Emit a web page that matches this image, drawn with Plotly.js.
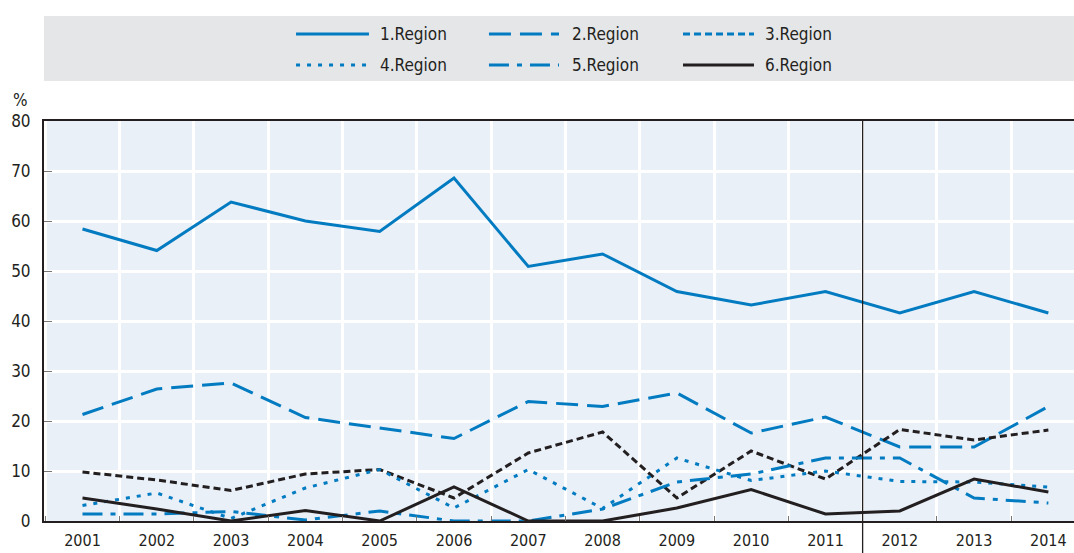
<!DOCTYPE html>
<html>
<head>
<meta charset="utf-8">
<script src="https://cdn.plot.ly/plotly-3.0.1.min.js"></script>
<style>html,body{margin:0;padding:0;background:#fff;}#chart{width:1074px;height:553px;}</style>
</head>
<body>
<div id="chart"></div>
<script>
// ---- data ----
const years = ['2001','2002','2003','2004','2005','2006','2007','2008','2009','2010','2011','2012','2013','2014'];
const seriesNames = ['1.Region','2.Region','3.Region','4.Region','5.Region','6.Region'];
const region1 = [58.4, 54.1, 63.8, 60.0, 57.9, 68.6, 50.9, 53.4, 45.9, 43.2, 45.9, 41.6, 45.9, 41.6];
const region2 = [21.3, 26.4, 27.6, 20.7, 18.6, 16.5, 23.9, 22.9, 25.6, 17.6, 20.8, 14.8, 14.8, 22.9];
const region3 = [9.8, 8.2, 6.1, 9.4, 10.3, 4.6, 13.6, 17.8, 4.6, 14.0, 8.4, 18.3, 16.2, 18.2];
const region4 = [3.1, 5.6, 0.5, 6.6, 10.3, 2.6, 10.3, 2.5, 12.6, 8.1, 10.0, 7.9, 7.8, 6.8];
const region5 = [1.4, 1.4, 1.9, 0.2, 2.0, 0.0, 0.0, 2.4, 7.8, 9.4, 12.6, 12.6, 4.6, 3.6];
const region6 = [4.6, 2.4, 0.0, 2.1, 0.0, 6.8, 0.0, 0.0, 2.6, 6.3, 1.4, 2.0, 8.4, 5.8];
const yTicks = [0, 10, 20, 30, 40, 50, 60, 70, 80];

// ---- styles ----
const BLUE = '#037bc1', BLACK = '#231f20';
const FONT = 'Liberation Sans Narrow, Arial Narrow, DejaVu Sans Condensed, sans-serif';
const values = [region1, region2, region3, region4, region5, region6];
const lineColors = [BLUE, BLUE, BLACK, BLUE, BLUE, BLACK];
const legendColors = [BLUE, BLUE, BLUE, BLUE, BLUE, BLACK];
const dashes = ['solid', '22px,9px', '7px,4px', '4px,7px', '20px,8px,5px,8px', 'solid'];

const xIdx = years.map((_, i) => i);
const traces = values.map((v, k) => ({
  type: 'scatter', mode: 'lines', name: seriesNames[k],
  x: xIdx, y: v, showlegend: false, hoverinfo: 'skip',
  line: {color: lineColors[k], width: 3, dash: dashes[k]}
}));

// legend drawn in a grey band above the plot
const shapes = [{
  type: 'rect', xref: 'paper', yref: 'paper', x0: 0, x1: 1, y0: 1.1, y1: 1.2625,
  fillcolor: '#e5e6e8', line: {width: 0}, layer: 'below'
}];
const annotations = [{
  text: '%', xref: 'paper', yref: 'paper', x: -0.0225, y: 1.0525,
  xanchor: 'center', yanchor: 'middle', showarrow: false,
  font: {family: FONT, size: 17, color: BLACK}
}];
const colSample = [[0.2447, 0.3155], [0.4320, 0.5000], [0.6204, 0.6893]];
const colText = [0.3243, 0.5107, 0.6981];
const rowY = [1.2175, 1.14];
seriesNames.forEach((nm, k) => {
  const c = k % 3, r = Math.floor(k / 3);
  shapes.push({
    type: 'line', xref: 'paper', yref: 'paper',
    x0: colSample[c][0], x1: colSample[c][1], y0: rowY[r], y1: rowY[r],
    line: {color: legendColors[k], width: 3, dash: dashes[k]}
  });
  annotations.push({
    text: nm, xref: 'paper', yref: 'paper', x: colText[c], y: rowY[r],
    xanchor: 'left', yanchor: 'middle', showarrow: false,
    font: {family: FONT, size: 17, color: BLACK}
  });
});
// break line between 2011 and 2012
shapes.push({
  type: 'line', xref: 'x', yref: 'paper', x0: 10.5, x1: 10.5, y0: -0.08, y1: 1,
  line: {color: BLACK, width: 1.3}, layer: 'above'
});

const layout = {
  width: 1074, height: 553,
  margin: {l: 44, r: 0, t: 121, b: 32, pad: 0},
  paper_bgcolor: '#ffffff', plot_bgcolor: '#e9f0f8',
  showlegend: false,
  font: {family: FONT, size: 17, color: BLACK},
  xaxis: {
    range: [-0.518, 13.345], tickmode: 'array', tickvals: xIdx, ticktext: years,
    showgrid: false, ticks: '', zeroline: false,
    showline: true, mirror: true, linecolor: BLACK, linewidth: 2,
    tickfont: {family: FONT, size: 16, color: BLACK},
    ticklabelstandoff: 4,
    minor: {tick0: 0.5, dtick: 1, showgrid: true, gridcolor: '#ffffff', gridwidth: 3,
            ticks: 'inside', ticklen: 5, tickcolor: '#777777', tickwidth: 1}
  },
  yaxis: {
    range: [0, 80], tickmode: 'array', tickvals: yTicks,
    showgrid: true, gridcolor: '#ffffff', gridwidth: 3, zeroline: false,
    showline: true, linecolor: BLACK, linewidth: 2,
    ticks: 'inside', ticklen: 8, tickcolor: '#777777', tickwidth: 1,
    tickfont: {family: FONT, size: 17, color: BLACK},
    ticklabelstandoff: 8
  },
  shapes: shapes,
  annotations: annotations
};

Plotly.newPlot('chart', traces, layout, {displayModeBar: false, staticPlot: true});
</script>
</body>
</html>
